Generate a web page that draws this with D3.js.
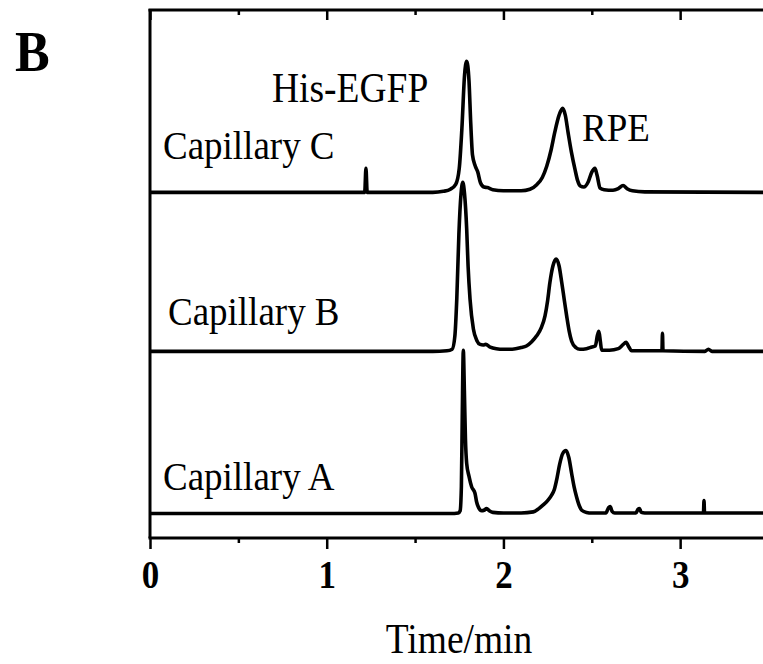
<!DOCTYPE html>
<html>
<head>
<meta charset="utf-8">
<script src="https://cdnjs.cloudflare.com/ajax/libs/d3/7.8.5/d3.min.js"></script>
<style>
  body { margin: 0; background: #fff; }
</style>
</head>
<body>
<div id="chart"></div>
<script>
// traces: [time (min), signal (a.u.)]
var capillaryA = [
  [0, 0], [1.70, 0], [1.745, 0.01], [1.755, 0.05], [1.762, 0.5], [1.767, 1.8],
  [1.773, 3.06], [1.779, 2.3], [1.785, 1.4], [1.792, 0.94], [1.805, 0.7], [1.82, 0.5],
  [1.839, 0.38], [1.848, 0.22], [1.858, 0.12], [1.877, 0.05], [1.89, 0.06], [1.905, 0.09],
  [1.92, 0.05], [1.94, 0.02], [2.0, 0.01], [2.10, 0.01], [2.169, 0.03], [2.20, 0.09],
  [2.225, 0.16], [2.25, 0.24], [2.27, 0.33], [2.288, 0.45], [2.303, 0.66], [2.318, 0.92],
  [2.335, 1.12], [2.354, 1.18], [2.37, 1.05], [2.386, 0.75], [2.40, 0.5], [2.414, 0.31],
  [2.43, 0.14], [2.443, 0.06], [2.47, 0.02], [2.50, 0.01], [2.58, 0.01], [2.595, 0.11],
  [2.604, 0.13], [2.615, 0.04], [2.63, 0.01], [2.75, 0.01], [2.762, 0.08], [2.77, 0.09],
  [2.78, 0.02], [2.80, 0.01], [3.132, 0.01], [3.135, 0.24], [3.138, 0.01], [3.5, 0.01]
];

var capillaryB = [
  [0, 0], [1.60, 0], [1.68, 0.01], [1.71, 0.04], [1.725, 0.28], [1.736, 0.98],
  [1.748, 2.2], [1.76, 2.95], [1.770, 3.17], [1.78, 2.95], [1.792, 2.3], [1.80, 1.6],
  [1.811, 0.98], [1.83, 0.42], [1.85, 0.2], [1.868, 0.13], [1.885, 0.12], [1.90, 0.13],
  [1.925, 0.08], [1.96, 0.05], [2.00, 0.04], [2.05, 0.04], [2.10, 0.07], [2.13, 0.1],
  [2.16, 0.18], [2.188, 0.29], [2.215, 0.45], [2.235, 0.66], [2.25, 0.95], [2.263, 1.29],
  [2.28, 1.6], [2.298, 1.73], [2.315, 1.6], [2.33, 1.29], [2.345, 0.95], [2.358, 0.66],
  [2.372, 0.38], [2.386, 0.19], [2.41, 0.07], [2.433, 0.04], [2.47, 0.05], [2.50, 0.08],
  [2.52, 0.1], [2.532, 0.3], [2.54, 0.375], [2.548, 0.2], [2.556, 0.02], [2.60, 0.02],
  [2.65, 0.05], [2.675, 0.12], [2.694, 0.17], [2.71, 0.08], [2.725, 0.01], [2.897, 0.01],
  [2.90, 0.34], [2.903, 0.01], [3.14, 0], [3.16, 0.04], [3.18, 0], [3.5, 0]
];

var capillaryC = [
  [0, 0], [1.215, 0], [1.222, 0.45], [1.229, 0], [1.60, 0], [1.66, 0.02],
  [1.70, 0.06], [1.73, 0.15], [1.75, 0.45], [1.765, 1.2], [1.78, 2.2], [1.792, 2.46],
  [1.805, 2.1], [1.815, 1.3], [1.825, 0.7], [1.84, 0.5], [1.855, 0.38], [1.87, 0.18],
  [1.89, 0.1], [1.91, 0.09], [1.94, 0.05], [2.00, 0.03], [2.10, 0.03], [2.15, 0.06],
  [2.19, 0.15], [2.22, 0.28], [2.245, 0.49], [2.27, 0.8], [2.29, 1.12], [2.315, 1.45],
  [2.335, 1.575], [2.35, 1.45], [2.366, 1.12], [2.385, 0.75], [2.405, 0.43], [2.42, 0.22],
  [2.435, 0.12], [2.455, 0.1], [2.48, 0.2], [2.50, 0.38], [2.518, 0.45], [2.53, 0.32],
  [2.547, 0.08], [2.57, 0.05], [2.62, 0.04], [2.65, 0.07], [2.677, 0.13], [2.70, 0.07],
  [2.73, 0.03], [2.80, 0.01], [3.5, 0]
];

var traces = [capillaryA, capillaryB, capillaryC];
var offsets = [0.46, 3.5, 6.48];
var traceLabels = ["Capillary A", "Capillary B", "Capillary C"];
var labelPos = [[163, 0.9], [168, 4.0], [163, 7.1]];   // [x px, signal]

var majorTicks = [0, 1, 2, 3];
var minorTicks = [0.5, 1.5, 2.5, 3.5];

var serif = "'Liberation Serif', 'Times New Roman', Times, serif";
var width = 763, height = 664;
var x = d3.scaleLinear().domain([0, 3.5]).range([150, 768.5]);
var y = d3.scaleLinear().domain([0, 9.9]).range([538, 10]);

var svg = d3.select("#chart").append("svg")
  .attr("width", width)
  .attr("height", height);

// the traces
var line = d3.line()
  .x(function(d) { return x(d[0]); })
  .y(function(d) { return d[1]; })
  .curve(d3.curveMonotoneX);

traces.forEach(function(t, i) {
  var pts = t.map(function(d) { return [d[0], y(d[1] + offsets[i])]; });
  svg.append("path")
    .attr("d", line(pts))
    .attr("fill", "none")
    .attr("stroke", "#000")
    .attr("stroke-width", 3.6)
    .attr("stroke-linejoin", "round");
});

// frame: left, top and bottom
svg.append("line")
  .attr("x1", 150).attr("x2", 150)
  .attr("y1", 9).attr("y2", 538)
  .attr("stroke", "#000").attr("stroke-width", 3);

var bottom = svg.append("g")
  .attr("transform", "translate(0,538)")
  .call(d3.axisBottom(x).tickValues(majorTicks).tickSize(11).tickFormat(d3.format("d")));
svg.append("g")
  .attr("transform", "translate(0,538)")
  .call(d3.axisBottom(x).tickValues(minorTicks).tickSize(5).tickFormat(""))
  .select(".domain").remove();

svg.append("g")
  .attr("transform", "translate(0,10)")
  .call(d3.axisBottom(x).tickValues(majorTicks).tickSize(10).tickFormat(""));
svg.append("g")
  .attr("transform", "translate(0,10)")
  .call(d3.axisBottom(x).tickValues(minorTicks).tickSize(5).tickFormat(""))
  .select(".domain").remove();

svg.selectAll(".domain")
  .attr("stroke-width", 3)
  .attr("d", "M148.5,0H770");
svg.selectAll(".tick line").attr("stroke-width", 2.5);

bottom.selectAll(".tick text")
  .attr("y", 0).attr("dy", null)
  .attr("transform", "translate(0,50) scale(1,1.12)")
  .attr("font-family", serif)
  .attr("font-weight", "bold")
  .attr("font-size", 35)
  .attr("fill", "#000");

// text labels
function label(txt, px, py, size, opts) {
  opts = opts || {};
  svg.append("text")
    .attr("transform", "translate(" + px + "," + py + ") scale(1,1.1)")
    .attr("text-anchor", opts.anchor || "start")
    .attr("font-family", serif)
    .attr("font-size", size)
    .attr("font-weight", opts.bold ? "bold" : "normal")
    .attr("fill", "#000")
    .text(txt);
}

traceLabels.forEach(function(t, i) {
  label(t, labelPos[i][0], y(labelPos[i][1]), 37);
});
label("His-EGFP", 272, 102, 37.5);
label("RPE", 582, 141, 37);
label("Time/min", 459, 653, 37.5, { anchor: "middle" });
label("B", 15, 71, 52, { bold: true });
</script>
</body>
</html>
